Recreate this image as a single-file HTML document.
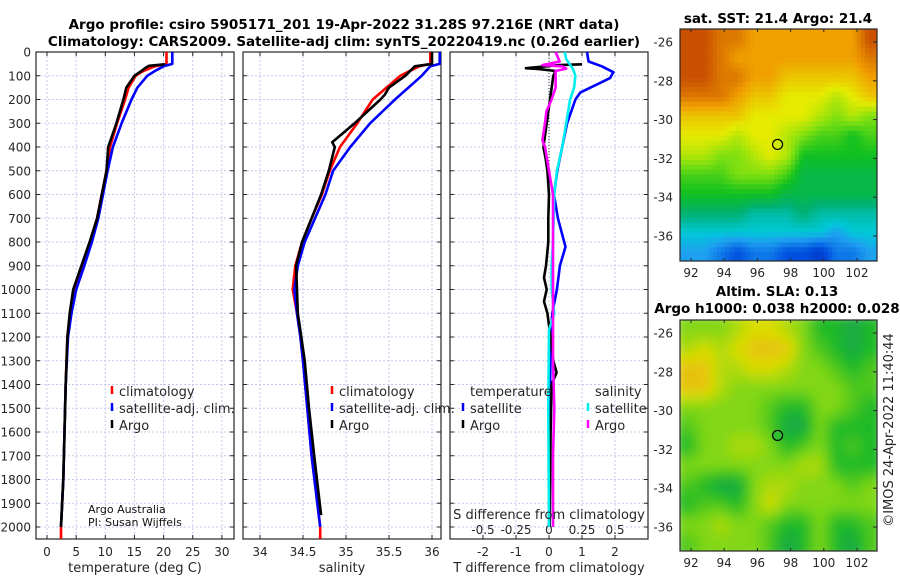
<!DOCTYPE html>
<html><head><meta charset="utf-8"><style>
body{margin:0;background:#fff;width:900px;height:580px;overflow:hidden}
svg{display:block;font-family:"DejaVu Sans","Liberation Sans",sans-serif}
</style></head><body>
<svg id="c" width="900" height="580" viewBox="0 0 900 580"></svg>
<script>
// ---- data ----
const depthTicks=[0,100,200,300,400,500,600,700,800,900,1000,1100,1200,1300,1400,1500,1600,1700,1800,1900,2000];
const tempTicks=[0,5,10,15,20,25,30];
const salTicks=[34,34.5,35,35.5,36];
const salTickLabels=["34","34.5","35","35.5","36"];
const tdTicks=[-2,-1,0,1,2];
const sdTicks=[-0.5,-0.25,0,0.25,0.5];
const sdTickLabels=["-0.5","-0.25","0","0.25","0.5"];

const tClimD=[0,10,30,50,60,80,100,150,200,300,400,500,600,700,800,900,1000,1100,1200,1400,1600,1800,2000,2050];
const tClimV=[20.5,20.5,20.5,20.5,18.5,16.5,15.2,14,13.4,12,10.8,10.2,9.4,8.6,7.4,6.1,4.7,4.0,3.5,3.2,3.0,2.8,2.4,2.4];
const tSatD=[0,10,30,50,60,80,100,150,200,300,400,500,600,700,800,900,1000,1100,1200,1400,1600,1800,2000];
const tSatV=[21.5,21.5,21.5,21.5,20,18.5,17.2,15.5,14.5,12.8,11.3,10.4,9.6,8.8,7.7,6.4,5,4.2,3.6,3.2,3.0,2.8,2.4];
const tArgoD=[52,58,65,80,100,150,200,300,400,500,600,700,800,900,1000,1100,1200,1400,1600,1800,2000];
const tArgoV=[20.2,17.5,17,16.2,15,13.6,13.1,11.9,10.5,10.2,9.4,8.6,7.3,5.9,4.5,3.9,3.5,3.2,3.0,2.8,2.4];

const sClimD=[0,50,60,100,200,300,400,500,600,700,800,900,1000,1100,1200,1300,1500,1700,2000,2050];
const sClimV=[35.98,35.98,35.85,35.63,35.31,35.13,34.93,34.81,34.72,34.6,34.49,34.41,34.38,34.43,34.47,34.5,34.55,34.6,34.7,34.7];
const sSatD=[0,50,60,100,200,300,400,500,600,700,800,900,1000,1100,1200,1300,1500,1700,2000];
const sSatV=[36.09,36.09,35.98,35.88,35.57,35.28,35.05,34.85,34.76,34.64,34.52,34.44,34.4,34.43,34.47,34.5,34.55,34.6,34.7];
const sArgoD=[0,50,60,100,150,180,200,300,380,400,500,600,700,800,900,1000,1100,1200,1300,1500,1700,1950];
const sArgoV=[36.0,36.0,35.8,35.69,35.5,35.45,35.4,35.1,34.84,34.87,34.8,34.71,34.6,34.49,34.42,34.43,34.44,34.48,34.52,34.57,34.63,34.71];

const dTSatD=[0,40,60,85,110,130,170,200,300,400,500,600,700,820,900,1000,1100,1200,2000];
const dTSatV=[1.15,1.2,1.6,1.95,1.85,1.55,0.95,0.8,0.55,0.4,0.25,0.15,0.27,0.5,0.33,0.24,0.1,0.05,0.0];
const dTArgoD=[52,55,62,68,72,80,100,200,300,400,450,500,600,700,800,900,950,1000,1050,1100,1200,1300,1350,1400,1600,2000];
const dTArgoV=[1.0,0.3,-0.2,-0.7,-0.3,0.2,0.13,0.03,-0.07,-0.17,-0.1,-0.05,0,-0.02,-0.02,-0.09,-0.15,-0.07,-0.15,-0.05,0.05,0.13,0.23,0.08,0.05,0.02];
const dSSatD=[0,30,70,100,150,200,300,400,500,600,800,900,1000,1100,1170,1500,2000];
const dSSatV=[0.12,0.13,0.18,0.2,0.19,0.16,0.13,0.1,0.06,0.04,0.03,0.02,0.02,0.04,0.0,-0.005,0.0];
const dSArgoD=[0,40,55,60,70,80,150,200,250,300,370,400,500,600,800,1000,1300,1500,1700,2000];
const dSArgoV=[0.05,0.08,-0.05,0.1,0.13,0.05,0.05,0.02,-0.02,-0.03,-0.05,-0.03,0,0.03,0.03,0.03,0.03,0.04,0.03,0.03];

const lonTicks=[92,94,96,98,100,102];
const latTicks=[-26,-28,-30,-32,-34,-36];
const sstGrid=[
[9,9,8.5,8.5,8,8,8,8,8,8,8,9],
[9,9,8.5,8,8,8,8,8,8,8,8,8.5],
[9,9,8.5,8.5,8,8,7.5,7.5,7.5,7.5,7.5,8],
[8.5,8.5,8.5,8,7.5,7.5,7,7,7,6.5,7,7.5],
[7.5,7.5,7.5,7.5,7,7,7,7,6.5,6,6.5,6],
[7,7,7,6.5,7,7,6.5,6,5.5,5.5,5,5.5],
[6.5,6.5,6,6,6.5,7,6.5,5,5,5,5,5],
[5.5,5.5,5.5,6,6,6,5.5,4.5,4.5,4.5,4.5,4.5],
[5,5,5,5,5,5,4.5,4.5,4.5,4.5,4.5,4.5],
[4,4,4,4,3.5,3.5,3.5,4,3.5,3.5,3.5,3.5],
[3,3,3,3,3,3,3,3,3,2.5,3,3],
[2.5,2.5,2,1.5,2,2,1.5,1.5,1,2,2,2.5]];
const slaGrid=[
[2,2,2,2.5,3,3,2.5,2,1,1,0.5,1],
[2.5,3,2.5,3,3.5,3.5,3.5,2,1.5,1,0.5,1],
[3.5,3.5,2.5,2.5,3,3,2.5,2,2,1.5,1,1.5],
[3.5,3.5,2.5,2,2,2,2,2,2,2,1.5,1.5],
[2,2,2,2,2,1.5,1,1,2,2,1.5,1],
[1.5,2,2,2,2,1.5,0.5,0.5,2,1,1,1],
[1,2,2,2.5,2.5,2,1,1.5,2,1,1.5,1],
[2,2,2,2,2,2,2,2.5,2.5,1,1,1],
[1.5,1,0.5,0.5,2,2.5,2.5,2,2,2,1.5,2],
[1,1.5,1.5,1,2,3,2,2,2,2,2,2],
[2,2,2.5,2,2,1.5,1,1,2,1,1,1.5],
[1.5,2,2,2,2,1.5,0.5,1,2,1,0.5,1.5]];
const argoLon=97.216, argoLat=-31.28;

// ---- axes ----
const yD=d=>52+d*0.2375;
const xT=v=>47+v*5.83;
const xS=v=>260+(v-34)*86;
const xDT=v=>549+v*33;
const xDS=v=>549+v*132;
const mx=lon=>691+(lon-92)*16.6;
const my1=lat=>42+(-26-lat)*19.4;
const my2=lat=>333+(-26-lat)*19.4;

const svg=document.getElementById('c');
const NS='http://www.w3.org/2000/svg';
function el(tag,at,parent){const e=document.createElementNS(NS,tag);for(const k in at)e.setAttribute(k,at[k]);(parent||svg).appendChild(e);return e;}
function txt(s,x,y,at,parent){const t=el('text',Object.assign({x:x,y:y,'font-size':12,fill:'#262626'},at||{}),parent);t.textContent=s;return t;}

const panels=[{x0:36,x1:234,name:'temperature-panel'},{x0:243,x1:441,name:'salinity-panel'},{x0:450,x1:648,name:'difference-panel'}];
const yTop=52,yBot=539;
const gridXs=[tempTicks.map(xT),salTicks.map(xS),tdTicks.map(xDT)];
panels.forEach((p,i)=>{
  const g=el('g',{});
  
  
  depthTicks.forEach(d=>{if(d>0){el('line',{x1:p.x0,x2:p.x1,y1:yD(d),y2:yD(d),stroke:'#c3c9ee','stroke-width':1,'stroke-dasharray':'2,2'},g);}});
  gridXs[i].forEach(x=>{el('line',{x1:x,x2:x,y1:yTop,y2:yBot,stroke:'#c3c9ee','stroke-width':1,'stroke-dasharray':'2,2'},g);
    el('line',{x1:x,x2:x,y1:yBot,y2:yBot-4,stroke:'#262626'},g);el('line',{x1:x,x2:x,y1:yTop,y2:yTop+4,stroke:'#262626'},g);});
  depthTicks.forEach(d=>{el('line',{x1:p.x0,x2:p.x0+4,y1:yD(d),y2:yD(d),stroke:'#262626'},g);el('line',{x1:p.x1,x2:p.x1-4,y1:yD(d),y2:yD(d),stroke:'#262626'},g);});
  el('rect',{x:p.x0,y:yTop,width:p.x1-p.x0,height:yBot-yTop,fill:'none',stroke:'#262626','stroke-width':1.2},g);
});
depthTicks.forEach(d=>{const t=txt(String(d),31,yD(d)+4.5,{'text-anchor':'end'});});
tempTicks.forEach(v=>{const t=txt(String(v),xT(v),556,{'text-anchor':'middle'});});
salTicks.forEach((v,i)=>{const t=txt(salTickLabels[i],xS(v),556,{'text-anchor':'middle'});});
tdTicks.forEach(v=>{const t=txt(String(v),xDT(v),556,{'text-anchor':'middle'});});
sdTicks.forEach((v,i)=>{const t=txt(sdTickLabels[i],xDS(v),534,{'text-anchor':'middle'});});

el('line',{x1:549,x2:549,y1:yTop,y2:yD(700),stroke:'#333','stroke-width':1,'stroke-dasharray':'1,2'});

function line(ds,vs,fx,color,name,w){
  const pts=ds.map((d,i)=>fx(vs[i]).toFixed(1)+','+yD(d).toFixed(1)).join(' ');
  const pl=el('polyline',{points:pts,fill:'none',stroke:color,'stroke-width':w||2.6,'stroke-linejoin':'round'});
  
  
}
line(tClimD,tClimV,xT,'#ff0000','temp-climatology-line');
line(tSatD,tSatV,xT,'#0000ff','temp-satellite-line');
line(tArgoD,tArgoV,xT,'#000000','temp-argo-line');
line(sClimD,sClimV,xS,'#ff0000','sal-climatology-line');
line(sSatD,sSatV,xS,'#0000ff','sal-satellite-line');
line(sArgoD,sArgoV,xS,'#000000','sal-argo-line');
line(dTSatD,dTSatV,xDT,'#0000ff','t-diff-satellite-line');
line(dTArgoD,dTArgoV,xDT,'#000000','t-diff-argo-line');
line(dSSatD,dSSatV,xDS,'#00eeee','s-diff-satellite-line');
line(dSArgoD,dSArgoV,xDS,'#ff00ff','s-diff-argo-line');

function legend(x,y,color,label,name){
  const g=el('g',{});
  
  
  el('line',{x1:x,x2:x,y1:y-10,y2:y-2,stroke:color,'stroke-width':2.5},g);
  txt(label,x+7,y,{'font-size':13},g);
}
legend(112,396,'#ff0000','climatology','legend-climatology');
legend(112,413,'#0000ff','satellite-adj. clim.','legend-satellite-adj');
legend(112,430,'#000000','Argo','legend-argo');
legend(332,396,'#ff0000','climatology','legend-climatology-sal');
legend(332,413,'#0000ff','satellite-adj. clim.','legend-satellite-adj-sal');
legend(332,430,'#000000','Argo','legend-argo-sal');
txt('temperature',470,396,{'font-size':13});
legend(463,413,'#0000ff','satellite','legend-t-satellite');
legend(463,430,'#000000','Argo','legend-t-argo');
txt('salinity',595,396,{'font-size':13});
legend(588,413,'#00eeee','satellite','legend-s-satellite');
legend(588,430,'#ff00ff','Argo','legend-s-argo');

txt('Argo Australia',88,513,{'font-size':11,fill:'#111'});
txt('PI: Susan Wijffels',88,526,{'font-size':11,fill:'#111'});
txt('temperature (deg C)',135,572,{'text-anchor':'middle','font-size':13});
txt('salinity',342,572,{'text-anchor':'middle','font-size':13});
txt('T difference from climatology',549,572,{'text-anchor':'middle','font-size':13});
txt('S difference from climatology',549,519,{'text-anchor':'middle','font-size':13});
txt('Argo profile: csiro 5905171_201 19-Apr-2022 31.28S 97.216E (NRT data)',344,29,{'text-anchor':'middle','font-size':13.5,'font-weight':'bold',fill:'#000'});
txt('Climatology: CARS2009. Satellite-adj clim: synTS_20220419.nc (0.26d earlier)',344,46,{'text-anchor':'middle','font-size':13.5,'font-weight':'bold',fill:'#000'});

// ---- maps ----
function lerpColor(stops,v){
  for(let i=0;i<stops.length-1;i++){const a=stops[i],b=stops[i+1];
    if(v<=b[0]){const t=Math.max(0,(v-a[0])/(b[0]-a[0]));return 'rgb('+[0,1,2].map(k=>Math.round(a[1][k]+(b[1][k]-a[1][k])*t)).join(',')+')';}}
  const l=stops[stops.length-1][1];return 'rgb('+l.join(',')+')';
}
const sstStops=[[0,[0,20,160]],[1.5,[0,80,224]],[2.5,[30,160,240]],[3,[0,200,216]],[4,[0,176,112]],[5,[16,192,32]],[6,[128,224,16]],[7,[230,235,0]],[8,[240,160,0]],[9,[200,80,0]]];
const slaStops=[[0,[30,150,110]],[1,[30,185,40]],[2,[130,215,20]],[3,[220,220,0]],[4,[240,165,30]]];
const defs=el('defs',{});
const cp=el('clipPath',{id:'m2c'},defs);
el('rect',{x:680,y:320,width:197,height:231},cp);
const cp1=el('clipPath',{id:'m1c'},defs);
el('rect',{x:680,y:29,width:197,height:232},cp1);
const flt=el('filter',{id:'bl'},defs);
el('feGaussianBlur',{stdDeviation:5},flt);
function sample(grid,fr,fc){
  const R=grid.length,C=grid[0].length;
  fr=Math.max(0,Math.min(R-1,fr));fc=Math.max(0,Math.min(C-1,fc));
  const r0=Math.floor(fr),c0=Math.floor(fc),r1=Math.min(R-1,r0+1),c1=Math.min(C-1,c0+1),tr=fr-r0,tc=fc-c0;
  return grid[r0][c0]*(1-tr)*(1-tc)+grid[r0][c1]*(1-tr)*tc+grid[r1][c0]*tr*(1-tc)+grid[r1][c1]*tr*tc;
}
function drawMap(grid,stops,myf,y0,y1,name,blur,clipId){
  const g=el('g',{'clip-path':'url(#'+clipId+')'});
  
  
  const inner=el('g',blur?{filter:'url(#bl)'}:{},g);
  const lon0=91.34,dlon=0.99,lat0=-25.33,dlat=1.0,S=4;
  const R=grid.length,C=grid[0].length;
  for(let r=-1;r<=R*S;r++)for(let c=-1;c<=C*S;c++){
    const v=sample(grid,(r+0.5)/S-0.5,(c+0.5)/S-0.5);
    const xa=mx(lon0+c*dlon/S),xb=mx(lon0+(c+1)*dlon/S),ya=myf(lat0-r*dlat/S),yb=myf(lat0-(r+1)*dlat/S);
    el('rect',{x:xa.toFixed(1),y:ya.toFixed(1),width:(xb-xa+0.5).toFixed(1),height:(yb-ya+0.5).toFixed(1),fill:lerpColor(stops,v)},inner);
  }
  const g2=el('g',{});
  el('rect',{x:680,y:y0,width:197,height:y1-y0,fill:'none',stroke:'#262626','stroke-width':1.2},g2);
  lonTicks.forEach(l=>{el('line',{x1:mx(l),x2:mx(l),y1:y1,y2:y1-3,stroke:'#262626'},g2);el('line',{x1:mx(l),x2:mx(l),y1:y0,y2:y0+3,stroke:'#262626'},g2);
    txt(String(l),mx(l),y1+16,{'text-anchor':'middle'},g2);});
  latTicks.forEach(l=>{el('line',{x1:877,x2:873,y1:myf(l),y2:myf(l),stroke:'#262626'},g2);
    txt(String(l),673,myf(l)+4.5,{'text-anchor':'end'},g2);});
}
drawMap(sstGrid,sstStops,my1,29,261,'sst-map',false,'m1c');
drawMap(slaGrid,slaStops,my2,320,551,'sla-map',true,'m2c');
const c1=el('circle',{cx:mx(argoLon),cy:my1(argoLat),r:5,fill:'none',stroke:'#000','stroke-width':1.2});


const c2=el('circle',{cx:mx(argoLon),cy:my2(argoLat),r:5,fill:'#30c030',stroke:'#000','stroke-width':1.2});


txt('sat. SST: 21.4 Argo: 21.4',778,23,{'text-anchor':'middle','font-size':13.5,'font-weight':'bold',fill:'#000'});
txt('Altim. SLA: 0.13',777,296,{'text-anchor':'middle','font-size':13.5,'font-weight':'bold',fill:'#000'});
txt('Argo h1000: 0.038 h2000: 0.028',777,313,{'text-anchor':'middle','font-size':13.5,'font-weight':'bold',fill:'#000'});
txt('©IMOS 24-Apr-2022 11:40:44',0,0,{'text-anchor':'middle','font-size':13,transform:'translate(893,430) rotate(-90)'});
</script>
</body></html>
